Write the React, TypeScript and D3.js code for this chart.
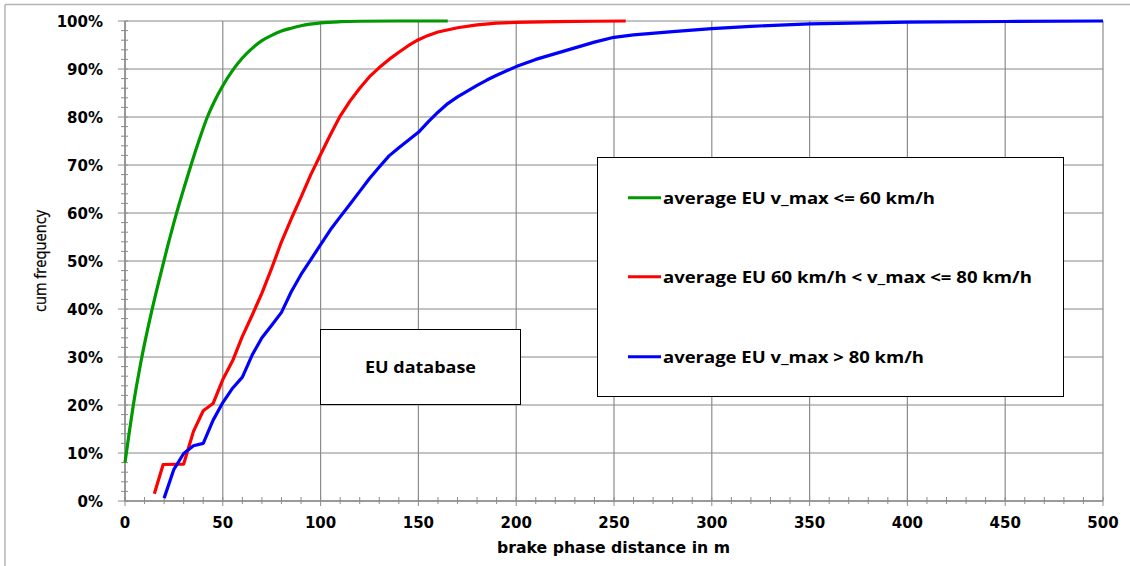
import React from 'react';
import * as d3 from 'd3';

// ---- data ----
const distanceTicks = [0, 50, 100, 150, 200, 250, 300, 350, 400, 450, 500];
const percentTicks = [0, 10, 20, 30, 40, 50, 60, 70, 80, 90, 100];

const greenDist = [0, 2, 4, 6, 8, 10, 12, 14, 16, 18, 20, 22, 25, 28, 30, 34, 38, 42, 46, 50, 55, 60, 65, 70, 75, 80, 85, 90, 100, 110, 120, 140, 165];
const greenFreq = [8, 13.8, 19.3, 24.2, 28.7, 32.8, 36.6, 40.2, 43.6, 46.9, 50.2, 53.4, 58, 62.3, 65, 70.3, 75.3, 79.9, 83.5, 86.5, 89.7, 92.3, 94.3, 95.9, 97, 97.9, 98.5, 99, 99.6, 99.85, 99.95, 100, 100];

const redDist = [15, 19.5, 30, 35, 40, 45, 50, 55, 60, 65, 70, 75, 80, 85, 90, 95, 100, 105, 110, 115, 120, 125, 130, 135, 140, 145, 150, 155, 160, 170, 180, 190, 200, 220, 240, 256];
const redFreq = [1.5, 7.6, 7.7, 14.5, 18.8, 20.3, 25.3, 29.2, 34.3, 38.7, 43.3, 48.5, 54, 58.8, 63.3, 68, 72.2, 76.3, 80.2, 83.3, 86, 88.4, 90.3, 92, 93.5, 94.9, 96.1, 97, 97.7, 98.6, 99.2, 99.55, 99.7, 99.85, 99.95, 100];

const blueDist = [20, 25, 30, 35, 40, 45, 50, 55, 60, 65, 70, 75, 80, 85, 90, 95, 100, 105, 110, 115, 120, 125, 130, 135, 140, 145, 150, 155, 160, 165, 170, 175, 180, 185, 190, 200, 210, 220, 230, 240, 250, 260, 280, 300, 320, 350, 400, 450, 500];
const blueFreq = [0.6, 6.6, 9.9, 11.5, 12, 16.8, 20.5, 23.5, 25.8, 30.4, 34, 36.6, 39.3, 43.6, 47.2, 50.3, 53.4, 56.5, 59.2, 61.8, 64.5, 67.2, 69.6, 71.9, 73.6, 75.2, 76.8, 79, 81, 82.8, 84.2, 85.4, 86.6, 87.7, 88.7, 90.5, 92, 93.2, 94.4, 95.6, 96.6, 97.1, 97.8, 98.4, 98.9, 99.4, 99.75, 99.9, 100];

const seriesNames = [
  'average EU v_max <= 60 km/h',
  'average EU 60 km/h < v_max <= 80 km/h',
  'average EU v_max > 80 km/h',
];
const seriesColors = ['#009900', '#ff0000', '#0000ff'];

const xTitle = 'brake phase distance in m';
const yTitle = 'cum frequency';
const boxLabel = 'EU database';

export default function App() {
  const W = 1130;
  const H = 566;
  const x = d3.scaleLinear().domain([0, 500]).range([125, 1103]);
  const y = d3.scaleLinear().domain([0, 100]).range([501, 21]);

  const series = [
    { d: greenDist, f: greenFreq, curve: d3.curveMonotoneX },
    { d: redDist, f: redFreq, curve: d3.curveLinear },
    { d: blueDist, f: blueFreq, curve: d3.curveLinear },
  ];

  const minorX = d3.range(0, 501, 10);
  const minorY = d3.range(0, 101, 2);

  const tickFont = 'DejaVu Sans, Verdana, sans-serif';
  const labelFont = "'Open Sans', sans-serif";
  const legendY = [197.7, 276.7, 356.7];
  const legendW = [272, 369, 261];

  return (
    <svg width={W} height={H} style={{ position: 'absolute', left: 0, top: 0, background: '#fff' }}>
      <rect x={0} y={0} width={W} height={H} fill="#fff" />
      {/* outer border (top & left visible) */}
      <line x1={5} x2={W} y1={4.5} y2={4.5} stroke="#b4b4b4" strokeWidth={1.5} />
      <line x1={5} x2={5} y1={4.5} y2={H} stroke="#b4b4b4" strokeWidth={1.5} />

      {/* horizontal grid */}
      {percentTicks.map((p) => (
        <line key={'hg' + p} x1={x(0)} x2={x(500)} y1={y(p)} y2={y(p)} stroke="#c3c3c3" strokeWidth={2} />
      ))}
      {/* vertical grid */}
      {distanceTicks.map((d) => (
        <line key={'vg' + d} x1={x(d)} x2={x(d)} y1={y(100)} y2={y(0)} stroke="#8c8c8c" strokeWidth={1.2} />
      ))}

      {/* axes */}
      <line x1={x(0)} x2={x(500)} y1={y(0)} y2={y(0)} stroke="#9a9a9a" strokeWidth={2} />
      <line x1={x(0)} x2={x(0)} y1={y(100)} y2={y(0)} stroke="#8c8c8c" strokeWidth={1.5} />
      {minorX.map((d) => (
        <line key={'mx' + d} x1={x(d)} x2={x(d)} y1={y(0) - 4} y2={y(0) + (d % 50 === 0 ? 5 : 3)} stroke="#8c8c8c" strokeWidth={1} />
      ))}
      {minorY.map((p) => (
        <line key={'my' + p} x1={x(0) - (p % 10 === 0 ? 7 : 4)} x2={x(0) + 3} y1={y(p)} y2={y(p)} stroke="#8c8c8c" strokeWidth={1} />
      ))}

      {/* tick labels */}
      {percentTicks.map((p) => (
        <text key={'yl' + p} x={103} y={y(p) + 5.5} textAnchor="end" fontFamily={tickFont} fontWeight="bold" fontSize={15} fill="#000">
          {p + '%'}
        </text>
      ))}
      {distanceTicks.map((d) => (
        <text key={'xl' + d} x={x(d)} y={528} textAnchor="middle" fontFamily={tickFont} fontWeight="bold" fontSize={15} fill="#000">
          {d}
        </text>
      ))}

      {/* axis titles */}
      <text x={497} y={553} fontFamily={tickFont} fontWeight="bold" fontSize={15.5} fill="#000" textLength={233} lengthAdjust="spacingAndGlyphs">
        {xTitle}
      </text>
      <text transform={`translate(46,${y(50)}) rotate(-90)`} x={-51} y={0} fontFamily={labelFont} fontSize={16.5} fill="#000" stroke="#000" strokeWidth={0.3} textLength={102} lengthAdjust="spacingAndGlyphs">
        {yTitle}
      </text>

      {/* EU database box */}
      <rect x={320.5} y={329.5} width={200} height={75} fill="#fff" stroke="#000" strokeWidth={1} />
      <text x={365} y={373} fontFamily={labelFont} fontWeight="bold" fontSize={16.5} fill="#000" textLength={111} lengthAdjust="spacingAndGlyphs">
        {boxLabel}
      </text>

      {/* legend box */}
      <rect x={597.5} y={157.5} width={466} height={239} fill="#fff" stroke="#000" strokeWidth={1} />
      {seriesNames.map((n, i) => {
        const ly = legendY[i];
        return (
          <g key={'lg' + i}>
            <line x1={628} x2={661} y1={ly} y2={ly} stroke={seriesColors[i]} strokeWidth={3} />
            <text x={663} y={ly + 5.8} fontFamily={labelFont} fontWeight="bold" fontSize={16.5} fill="#000" textLength={legendW[i]} lengthAdjust="spacingAndGlyphs">
              {n}
            </text>
          </g>
        );
      })}

      {/* series */}
      {series.map((s, i) => {
        const pts: [number, number][] = s.d.map((d, j) => [d, s.f[j]]);
        const line = d3
          .line<[number, number]>()
          .x((p) => x(p[0]))
          .y((p) => y(p[1]))
          .curve(s.curve);
        return (
          <path key={'s' + i} d={line(pts) || ''} fill="none" stroke={seriesColors[i]} strokeWidth={3.2} strokeLinejoin="round" />
        );
      })}
    </svg>
  );
}
